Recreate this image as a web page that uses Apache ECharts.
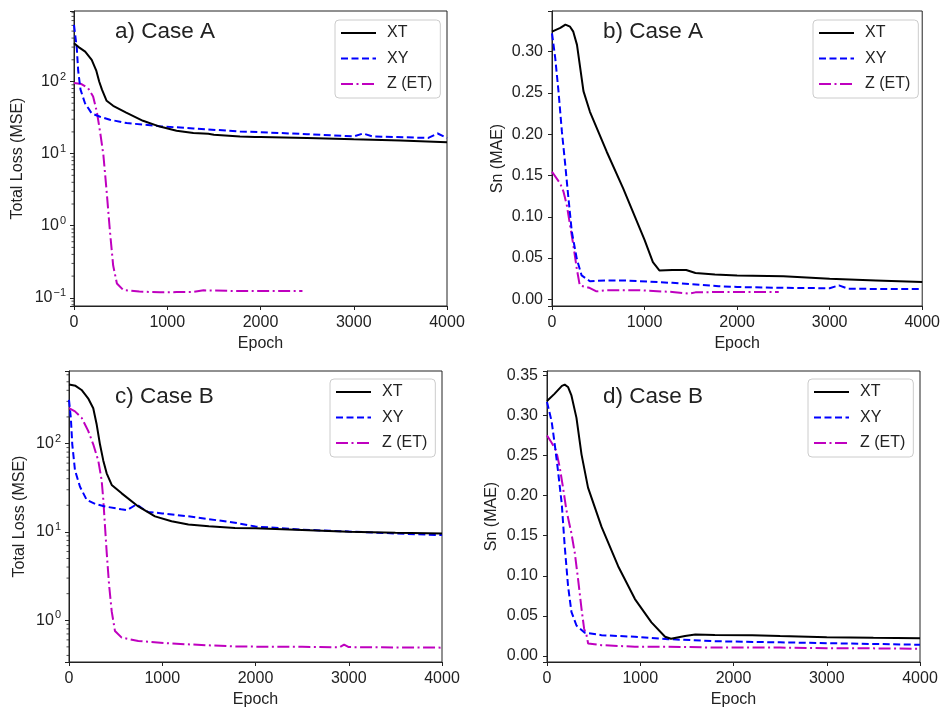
<!DOCTYPE html>
<html><head><meta charset="utf-8">
<script src="https://cdn.jsdelivr.net/npm/echarts@6/dist/echarts.min.js"></script>
<style>html,body{margin:0;padding:0;background:#fff}#c{width:943px;height:709px}</style>
</head><body><div id="c"></div><script>
// ---- data: [epoch, value] ----
const lossA_XT = [[0,340],[50,300],[120,260],[190,200],[240,140],[270,100],[300,77],[350,54],[420,46],[560,37],[740,28.5],[920,23.7],[1100,20.7],[1280,19.3],[1440,18.8],[1460,19.5],[1500,18.3],[1780,17.3],[1940,17.0],[1960,18.0],[2000,17.0],[2500,16.5],[3000,15.8],[3500,15.2],[4000,14.4]];
const lossA_XY = [[0,610],[30,290],[45,140],[70,77],[118,50],[190,36],[280,32.5],[385,29.5],[565,26.5],[920,24],[1280,22.3],[1780,20.3],[2000,19.8],[2500,18.6],[3000,17.3],[3100,19.0],[3200,17.3],[3800,16.5],[3900,19.0],[4000,16.4]];
const lossA_Z = [[0,95],[80,92],[150,81],[205,62],[245,38],[280,20],[315,9.6],[350,3.0],[385,0.85],[420,0.28],[460,0.158],[530,0.128],[700,0.122],[920,0.119],[1100,0.12],[1280,0.121],[1390,0.127],[1780,0.124],[2000,0.124],[2450,0.124]];

const maeA_XT = [[0,0.324],[90,0.3285],[145,0.3325],[195,0.330],[230,0.324],[270,0.308],[340,0.252],[410,0.227],[590,0.179],[770,0.134],[1000,0.072],[1090,0.045],[1160,0.035],[1300,0.0355],[1450,0.0355],[1550,0.032],[1760,0.030],[2000,0.029],[2500,0.028],[3000,0.025],[3500,0.023],[4000,0.021]];
const maeA_XY = [[0,0.322],[35,0.292],[70,0.252],[107,0.203],[143,0.163],[178,0.122],[214,0.082],[268,0.049],[320,0.029],[410,0.022],[590,0.023],[770,0.023],[950,0.022],[1300,0.020],[1800,0.016],[2000,0.015],[2500,0.014],[3000,0.0135],[3100,0.017],[3200,0.0128],[4000,0.0125]];
const maeA_Z = [[0,0.1545],[90,0.140],[125,0.130],[160,0.114],[195,0.090],[230,0.066],[268,0.037],[300,0.017],[410,0.0137],[480,0.0097],[590,0.011],[950,0.011],[1300,0.009],[1480,0.007],[1550,0.0085],[1800,0.009],[2000,0.009],[2450,0.009]];

const lossB_XT = [[0,466],[70,450],[135,404],[205,325],[260,251],[297,164],[332,98],[368,64],[404,46],[458,34],[565,27.3],[743,19.4],[922,15],[1100,13.2],[1280,12.1],[1500,11.6],[1780,11.1],[2000,11.0],[2500,10.5],[3000,10.05],[3500,9.8],[4000,9.6]];
const lossB_XY = [[0,312],[20,193],[35,98],[64,50],[118,32.4],[190,23],[280,20.7],[386,19.4],[560,18.0],[620,17.6],[725,20.5],[780,18.6],[850,16.8],[1000,16.2],[1280,15],[1780,12.7],[2000,11.5],[2500,10.6],[3000,10.1],[3500,9.6],[4000,9.2]];
const lossB_Z = [[0,251],[64,231],[136,195],[207,138],[260,98],[314,64],[350,38.5],[368,23],[386,11.6],[404,5.9],[430,2.5],[458,1.26],[493,0.755],[565,0.636],[743,0.583],[1100,0.545],[1500,0.52],[1780,0.505],[2000,0.503],[2500,0.5],[2900,0.495],[2950,0.53],[3000,0.497],[3500,0.492],[4000,0.49]];

const maeB_XT = [[0,0.318],[80,0.327],[160,0.337],[190,0.3385],[225,0.3356],[262,0.325],[316,0.297],[370,0.2515],[440,0.210],[585,0.161],[763,0.112],[943,0.071],[1120,0.042],[1266,0.024],[1330,0.0215],[1480,0.025],[1590,0.0267],[1800,0.0263],[2200,0.026],[2500,0.025],[3000,0.0235],[3500,0.0228],[4000,0.0222]];
const maeB_XY = [[0,0.317],[50,0.2925],[83,0.264],[118,0.231],[158,0.19],[190,0.137],[226,0.087],[262,0.055],[316,0.038],[405,0.029],[585,0.026],[943,0.024],[1300,0.021],[1800,0.0185],[2000,0.018],[2500,0.017],[3000,0.016],[3500,0.015],[4000,0.014]];
const maeB_Z = [[0,0.275],[50,0.266],[100,0.2556],[137,0.235],[172,0.21],[208,0.182],[262,0.153],[298,0.1285],[333,0.096],[370,0.059],[398,0.034],[424,0.026],[441,0.0156],[585,0.0135],[943,0.0116],[1300,0.0116],[1800,0.0105],[2000,0.0107],[2500,0.0105],[3000,0.0098],[3500,0.0095],[4000,0.009]];

const seriesNames = ['XT', 'XY', 'Z (ET)'];
const panelTitles = ['a) Case A', 'b) Case A', 'c) Case B', 'd) Case B'];
const yNames = ['Total Loss (MSE)', 'Sn (MAE)', 'Total Loss (MSE)', 'Sn (MAE)'];
// minor tick values of the two log axes (2..9 x 10^k)
const minorTicksA = [0.08,0.09,0.2,0.3,0.4,0.5,0.6,0.7,0.8,0.9,2,3,4,5,6,7,8,9,20,30,40,50,60,70,80,90,200,300,400,500,600,700,800,900];
const minorTicksC = [0.4,0.5,0.6,0.7,0.8,0.9,2,3,4,5,6,7,8,9,20,30,40,50,60,70,80,90,200,300,400,500,600];
const panelData = [[lossA_XT, lossA_XY, lossA_Z],[maeA_XT, maeA_XY, maeA_Z],[lossB_XT, lossB_XY, lossB_Z],[maeB_XT, maeB_XY, maeB_Z]];
const panelMinor = [minorTicksA, null, minorTicksC, null];

// ---- layout / style ----
const FONT = "'Liberation Sans', Arial, sans-serif";
const TXT = '#222';
const grids = [
  {left:74, top:11, width:373, height:295},
  {left:552, top:11, width:373, height:295},
  {left:69, top:371, width:373, height:296},
  {left:547, top:371, width:373, height:295}
];
const yCfg = [
  {type:'log', min:0.077, max:950, nameGap:48},
  {type:'value', min:-0.008, max:0.349, nameGap:46},
  {type:'log', min:0.337, max:662, nameGap:41},
  {type:'value', min:-0.0075, max:0.3555, nameGap:47}
];
const titlePos = [[115,20],[603,20],[115,385],[603,385]];
const legendPos = [[335,20],[813,20],[330,379],[808,379]];
const lineStyles = [
  {color:'#000000', width:2, type:'solid'},
  {color:'#0000ff', width:2, type:[7,3.5]},
  {color:'#bf00bf', width:2, type:[12,3.5,2,3.5]}
];

function logLabel(v){
  const e = Math.log10(v); const r = Math.round(e);
  if (Math.abs(e - r) > 1e-6) return '';
  return '{b|10}{s|' + (r < 0 ? '\u2212' + (-r) : r) + '}';
}
function linLabel(v){
  const k = v / 0.05;
  if (Math.abs(k - Math.round(k)) > 1e-6) return '';
  return (Math.round(k) * 0.05).toFixed(2);
}

const option = {
  animation: false,
  backgroundColor: '#fff',
  textStyle: {fontFamily: FONT},
  grid: grids.map(g => Object.assign({show:true, borderColor:'#222', borderWidth:1, backgroundColor:'transparent', containLabel:false}, g)),
  title: panelTitles.map((t,i) => ({text:t, left:titlePos[i][0], top:titlePos[i][1], padding:0,
    textStyle:{fontFamily:FONT, fontSize:22.5, fontWeight:'normal', color:TXT}})),
  legend: legendPos.map((p,i) => ({
    left:p[0], top:p[1], orient:'vertical', data: seriesNames.map(n => n + '\u200b'.repeat(i)),
    itemWidth:35, itemHeight:14, itemGap:9.5, padding:[5,8,6,5],
    itemStyle:{opacity:0, borderWidth:0},
    borderColor:'#cccccc', borderWidth:1, borderRadius:4, backgroundColor:'#fff',
    textStyle:{fontFamily:FONT, fontSize:16, color:TXT, padding:[0,0,0,6]}, selectedMode:false
  })),
  xAxis: grids.map((g,i) => ({
    type:'value', gridIndex:i, min:0, max:4000, interval:1000,
    name:'Epoch', nameLocation:'middle', nameGap:30,
    nameTextStyle:{fontFamily:FONT, fontSize:16, color:TXT},
    axisLine:{show:true, onZero:false, lineStyle:{color:'#222', width:1}},
    axisTick:{show:true, length:4, lineStyle:{color:'#222'}},
    axisLabel:{fontFamily:FONT, fontSize:16, color:TXT, margin:9, formatter: v => String(v)},
    splitLine:{show:false}
  })),
  yAxis: yCfg.map((c,i) => {
    const ax = {
      type:c.type, gridIndex:i, min:c.min, max:c.max,
      name:yNames[i], nameLocation:'middle', nameGap:c.nameGap,
      nameTextStyle:{fontFamily:FONT, fontSize:16, color:TXT},
      axisLine:{show:true, onZero:false, lineStyle:{color:'#222', width:1}},
      axisTick:{show:true, length:4, lineStyle:{color:'#222'}},
      splitLine:{show:false}
    };
    if (c.type === 'log') {
      ax.logBase = 10;
      ax.axisLabel = {fontFamily:FONT, fontSize:16, color:TXT, margin:8, formatter:logLabel,
        rich:{b:{fontFamily:FONT, fontSize:16, color:TXT}, s:{fontFamily:FONT, fontSize:11, color:TXT, padding:[0,0,10,1]}}};
    } else {
      ax.minInterval = 0.05; ax.maxInterval = 0.05; ax.splitNumber = 7;
      ax.axisLabel = {fontFamily:FONT, fontSize:16, color:TXT, margin:9, formatter:linLabel};
    }
    return ax;
  }),
  series: []
};
panelData.forEach((sets, i) => {
  sets.forEach((d, j) => {
    option.series.push({
      name: seriesNames[j] + '\u200b'.repeat(i), type:'line', xAxisIndex:i, yAxisIndex:i,
      data:d, showSymbol:false, symbol:'none', lineStyle:lineStyles[j], itemStyle:{color:lineStyles[j].color},
      color: lineStyles[j].color, clip:true, z: 3 - j, smooth:false
    });
  });
  if (panelMinor[i]) {
    option.series.push({
      type:'custom', xAxisIndex:i, yAxisIndex:i, silent:true, clip:false,
      data: panelMinor[i].map(v => [0, v]),
      renderItem: (params, api) => {
        const p = api.coord([0, api.value(1)]);
        return {type:'line', shape:{x1:p[0]-2.5, y1:p[1], x2:p[0], y2:p[1]}, style:{stroke:'#222', lineWidth:0.8}};
      }
    });
  }
});
const chart = echarts.init(document.getElementById('c'), null, {renderer:'canvas'});
chart.setOption(option);
</script></body></html>
